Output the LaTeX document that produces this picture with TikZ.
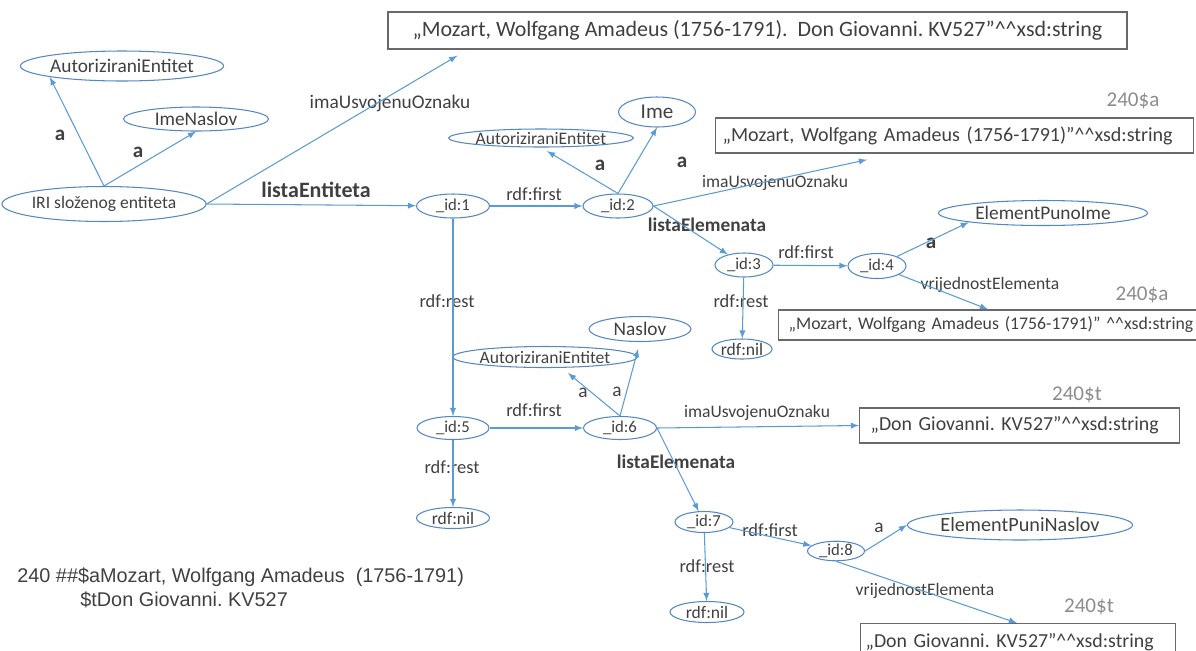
\documentclass[tikz,border=0pt]{standalone}
\usepackage{fontspec}
\setmainfont{Carlito}
\newfontfamily\arialfont{Liberation Sans}
\usetikzlibrary{shapes.geometric}
\frenchspacing

\definecolor{linkblue}{RGB}{91,155,213}
\definecolor{entblue}{RGB}{84,135,195}
\definecolor{txtgray}{RGB}{64,64,64}
\definecolor{boxgray}{RGB}{105,105,105}
\definecolor{fieldgray}{RGB}{140,140,140}

\newcommand{\fsz}[1]{\fontsize{#1}{13.6}\selectfont}
\newcommand{\dcaret}{\textasciicircum\textasciicircum}

\tikzset{
  ent/.style={ellipse, draw=entblue, line width=0.6pt, inner sep=0pt, text=txtgray},
  lit/.style={rectangle, draw=boxgray, line width=0.8pt, inner sep=0pt, text=txtgray, align=left},
  lbl/.style={inner sep=0pt, text=txtgray},
  fld/.style={inner sep=0pt, text=fieldgray, font=\fsz{12}}
}

\begin{document}
\begin{tikzpicture}[x=0.02cm, y=-0.02cm,
    every edge/.append style={draw=linkblue, line width=0.6pt}]
  \useasboundingbox (0,0) rectangle (1196,650);

  % literal boxes
  \node[lit, minimum width=14.78cm, minimum height=0.74cm, font=\fsz{12.5}] at (757.5,30.5) (box1) {„Mozart, Wolfgang Amadeus (1756-1791).\ \ Don Giovanni. KV527”\dcaret xsd:string};
  \node[lit, anchor=west, inner xsep=0.14cm, text width=9.28cm, minimum height=0.7cm, font=\fsz{11.4}] at (715,135.5) (box2) {„Mozart, Wolfgang Amadeus (1756-1791)”\dcaret xsd:string};
  \node[lit, anchor=west, inner xsep=0.2cm, text width=8.6cm, minimum height=0.6cm, font=\fsz{10.1}] at (778,325) (box3) {„Mozart, Wolfgang Amadeus (1756-1791)” \dcaret xsd:string};
  \node[lit, anchor=west, inner xsep=0.22cm, text width=5.96cm, minimum height=0.7cm, font=\fsz{11.3}] at (859,425.5) (box4) {„Don Giovanni. KV527”\dcaret xsd:string};
  \node[lit, anchor=north west, inner xsep=0.1cm, text width=6.1cm, minimum height=0.74cm, font=\fsz{11.3}] at (860,623) (box5) {„Don Giovanni. KV527”\dcaret xsd:string};

  % classes
  \node[ent, minimum width=3.82cm, minimum height=0.6cm, font=\fsz{11}] at (122,66) (aeA) {AutoriziraniEntitet};
  \node[ent, minimum width=2.9cm, minimum height=0.48cm, font=\fsz{11}] at (196,119) (imeNaslov) {ImeNaslov};
  \node[ent, minimum width=3.3cm, minimum height=0.36cm, font=\fsz{10}] at (541,138) (aeB) {AutoriziraniEntitet};
  \node[ent, minimum width=1.54cm, minimum height=0.6cm, font=\fsz{12}] at (657,112) (ime) {Ime};
  \node[ent, minimum width=4.18cm, minimum height=0.5cm, font=\fsz{11}] at (1043,213) (elPunoIme) {ElementPunoIme};
  \node[ent, minimum width=2.04cm, minimum height=0.5cm, font=\fsz{11}] at (640,329) (naslov) {Naslov};
  \node[ent, minimum width=3.3cm, minimum height=0.42cm, font=\fsz{10}] at (545,357) (aeC) {AutoriziraniEntitet};
  \node[ent, minimum width=4.28cm, minimum height=0.6cm, font=\fsz{11.5}] at (1020,525) (elPuniNaslov) {ElementPuniNaslov};

  % resources and blank nodes
  \node[ent, minimum width=3.76cm, minimum height=0.7cm, font=\fsz{10}] at (104,204) (iri) {IRI složenog entiteta};
  \node[ent, minimum width=1.46cm, minimum height=0.48cm, font=\fsz{9.5}] at (453,206) (id1) {\_id:1};
  \node[ent, minimum width=1.4cm, minimum height=0.48cm, font=\fsz{9.5}] at (618,206) (id2) {\_id:2};
  \node[ent, minimum width=1.16cm, minimum height=0.48cm, font=\fsz{9.5}] at (744,265) (id3) {\_id:3};
  \node[ent, minimum width=1.16cm, minimum height=0.5cm, font=\fsz{9.5}] at (877,266) (id4) {\_id:4};
  \node[ent, minimum width=1.1cm, minimum height=0.4cm, font=\fsz{10}] at (742,349) (nil1) {rdf:nil};
  \node[ent, minimum width=1.44cm, minimum height=0.46cm, font=\fsz{9.5}] at (453,428) (id5) {\_id:5};
  \node[ent, minimum width=1.46cm, minimum height=0.46cm, font=\fsz{9.5}] at (620,428) (id6) {\_id:6};
  \node[ent, minimum width=1.46cm, minimum height=0.42cm, font=\fsz{10}] at (453,518) (nil2) {rdf:nil};
  \node[ent, minimum width=1.16cm, minimum height=0.42cm, font=\fsz{9.5}] at (704,522) (id7) {\_id:7};
  \node[ent, minimum width=1.48cm, minimum height=0.42cm, font=\fsz{10}] at (707,612) (nil3) {rdf:nil};
  \node[ent, minimum width=1.14cm, minimum height=0.38cm, font=\fsz{9.5}] at (836,551) (id8) {\_id:8};

  % MARC field
  \node[lbl, anchor=west, align=left, font=\arialfont\fsz{11.3}] at (17,588) (marc) {240 \#\#\$aMozart, Wolfgang Amadeus\ \ (1756-1791)\\\hspace*{1.26cm}\$tDon Giovanni. KV527};

  % field labels
  \node[fld] at (1133,101) (f1) {240\$a};
  \node[fld] at (1142,295) (f2) {240\$a};
  \node[fld] at (1077,395) (f3) {240\$t};
  \node[fld] at (1089,607) (f4) {240\$t};

  % edge labels
  \node[lbl, font=\fsz{12}\bfseries] at (60,135) (aA) {a};
  \node[lbl, font=\fsz{12}\bfseries] at (138,152) (aB) {a};
  \node[lbl, font=\fsz{11}] at (390,103) (o1) {imaUsvojenuOznaku};
  \node[lbl, font=\fsz{12.5}\bfseries] at (316,190) (le) {listaEntiteta};
  \node[lbl, font=\fsz{10.5}] at (534,194) (r1) {rdf:first};
  \node[lbl, font=\fsz{12}\bfseries] at (600,165) (aC) {a};
  \node[lbl, font=\fsz{12}\bfseries] at (682,162) (aD) {a};
  \node[lbl, font=\fsz{10}] at (775,183) (o2) {imaUsvojenuOznaku};
  \node[lbl, font=\fsz{11}\bfseries] at (707,225) (lel1) {listaElemenata};
  \node[lbl, font=\fsz{10.5}] at (806,252) (r2) {rdf:first};
  \node[lbl, font=\fsz{12}\bfseries] at (931,243) (aE) {a};
  \node[lbl, font=\fsz{10}] at (990,285) (v1) {vrijednostElementa};
  \node[lbl, font=\fsz{10.5}] at (741,301) (s1) {rdf:rest};
  \node[lbl, font=\fsz{10.5}] at (447,301) (s2) {rdf:rest};
  \node[lbl, font=\fsz{11}] at (583,393) (aF) {a};
  \node[lbl, font=\fsz{11}] at (617,392) (aG) {a};
  \node[lbl, font=\fsz{10.5}] at (534,410) (r3) {rdf:first};
  \node[lbl, font=\fsz{10}] at (757,413) (o3) {imaUsvojenuOznaku};
  \node[lbl, font=\fsz{11}\bfseries] at (676,462) (lel2) {listaElemenata};
  \node[lbl, font=\fsz{10.5}] at (452,467) (s3) {rdf:rest};
  \node[lbl, font=\fsz{10.5}] at (770,530) (r4) {rdf:first};
  \node[lbl, font=\fsz{11}] at (879,528) (aH) {a};
  \node[lbl, font=\fsz{10.5}] at (707,566) (s4) {rdf:rest};
  \node[lbl, font=\fsz{10}] at (925,591) (v2) {vrijednostElementa};

  \path[->]
  (iri.north) edge [>=latex] (aeA.south west)
  (iri.north) edge [>=latex] (imeNaslov.south)
  (iri.east) edge [>=latex] ([xshift=1.4cm, yshift=-0.12cm]box1.south west)
  (iri.east) edge [>=latex] (id1)
  (id1) edge [>=latex] (id2)
  (id2.north) edge [>=latex, shorten >=4pt] (aeB.south)
  (id2.north) edge [>=latex] (ime.south)
  (id2.east) edge [>=latex] ([xshift=3.04cm, yshift=-0.12cm]box2.south west)
  (id2.east) edge [>=latex] (id3)
  (id3) edge [>=latex] (id4)
  (id4) edge [>=latex] (elPunoIme.south west)
  (id4) edge [>=latex] ([xshift=4.2cm]box3.north west)
  (id3) edge [>=latex] (nil1)
  (id1) edge [>=latex] (id5);
  \path[->]
  (id5) edge [>=latex] (id6)
  (id6.north) edge [>=latex] ([xshift=0.46cm, yshift=-0.1cm]aeC.south)
  (id6.north) edge [>=latex, shorten >=4pt] (naslov.south)
  (id6.east) edge [>=latex] (box4.west)
  (id6.east) edge [>=latex] (id7)
  (id5) edge [>=latex] (nil2)
  (id7) edge [>=latex] (nil3)
  (id7) edge [>=latex] (id8)
  (id8.east) edge [>=latex] (elPuniNaslov.west)
  (id8.south) edge [>=latex] ([xshift=3.14cm]box5.north west);
\end{tikzpicture}
\end{document}
